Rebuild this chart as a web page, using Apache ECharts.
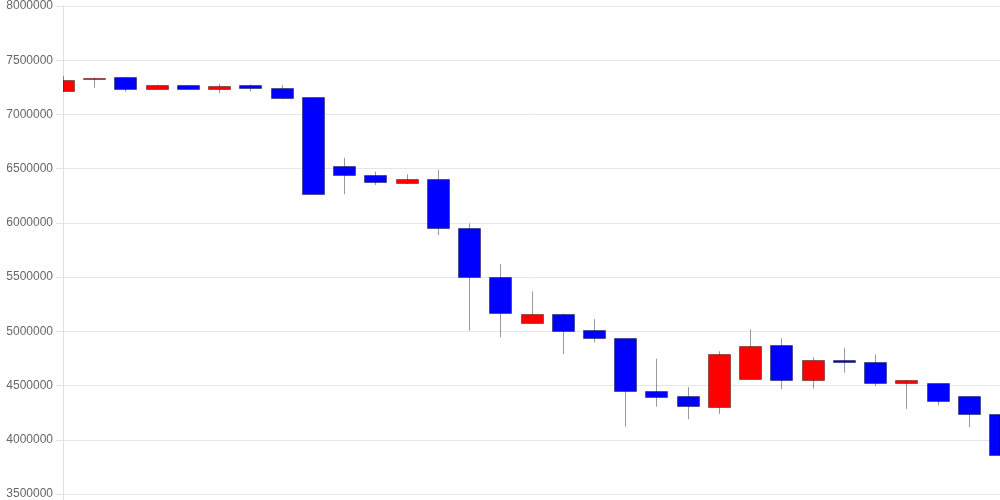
<!DOCTYPE html>
<html>
<head>
<meta charset="utf-8">
<script src="https://cdn.jsdelivr.net/npm/echarts@6/dist/echarts.min.js"></script>
<style>
html,body{margin:0;padding:0;background:#fff;}
#chart{width:1000px;height:500px;}
</style>
</head>
<body>
<div id="chart"></div>
<script>
var categories = ['1','2','3','4','5','6','7','8','9','10','11','12','13','14','15','16','17','18','19','20','21','22','23','24','25','26','27','28','29','30','31'];
var opens  = [7210000,7335000,7342000,7228000,7269000,7228000,7269000,7241000,7158000,6525000,6444000,6374000,6405000,5950000,5504000,5083000,5163000,5012000,4936000,4453000,4401000,4305000,4561000,4874000,4554000,4736000,4714000,4517000,4521000,4401000,4235000];
var closes = [7315000,7340000,7228000,7267000,7232000,7260000,7238000,7152000,6264000,6442000,6380000,6408000,5950000,5501000,5169000,5163000,5010000,4936000,4450000,4401000,4309000,4791000,4865000,4554000,4736000,4714000,4517000,4549000,4355000,4235000,3860000];
var lows   = [7210000,7247000,7210000,7228000,7232000,7195000,7210000,7140000,6264000,6264000,6349000,6359000,5888000,5006000,4945000,5074000,4791000,4899000,4121000,4305000,4189000,4238000,4561000,4466000,4471000,4619000,4493000,4284000,4318000,4115000,3807000];
var highs  = [7355000,7340000,7342000,7274000,7273000,7281000,7277000,7272000,7158000,6601000,6472000,6448000,6488000,5996000,5621000,5369000,5163000,5114000,4936000,4748000,4487000,4816000,5019000,4936000,4761000,4849000,4788000,4549000,4521000,4401000,4256000];
var yTicks = {min: 3500000, max: 8000000, interval: 500000};

var ohlc = categories.map(function(c, i){ return [i, opens[i], closes[i], lows[i], highs[i]]; });

var BODY_W = 22;
var EDGE = 'rgba(0,0,0,0.4)';

function renderCandle(params, api) {
  var idx = api.value(0);
  var o = api.value(1), c = api.value(2), l = api.value(3), h = api.value(4);
  var pO = api.coord([idx, o]);
  var pC = api.coord([idx, c]);
  var pL = api.coord([idx, l]);
  var pH = api.coord([idx, h]);
  var cs = params.coordSys;
  var area = {x: cs.x, y: cs.y, width: cs.width, height: cs.height};
  var cx = Math.round(pO[0]) + 0.5;
  var top = Math.min(pO[1], pC[1]);
  var bot = Math.max(pO[1], pC[1]);
  var up = c > o;
  var children = [];
  if (cx >= cs.x && cx <= cs.x + cs.width) {
    children.push({
      type: 'line',
      shape: {x1: cx, y1: pH[1], x2: cx, y2: pL[1]},
      style: {stroke: EDGE, lineWidth: 1}
    });
  }
  var rect = echarts.graphic.clipRectByRect(
    {x: Math.round(pO[0] - BODY_W / 2) + 0.5, y: Math.round(top) + 0.5, width: BODY_W, height: Math.max(1, Math.round(bot - top))},
    area
  );
  if (rect) {
    children.push({
      type: 'rect',
      shape: rect,
      style: {fill: up ? '#ff0000' : '#0000ff', stroke: EDGE, lineWidth: 1}
    });
  }
  return {type: 'group', children: children};
}

var chart = echarts.init(document.getElementById('chart'), null, {renderer:'canvas'});
chart.setOption({
  animation: false,
  grid: {left: 63, right: 0, top: 6, bottom: 6, containLabel: false},
  xAxis: {
    type: 'category',
    data: categories,
    boundaryGap: false,
    axisLine: {show: false},
    axisLabel: {show: false},
    axisTick: {show: true, length: 6, interval: function(i){ return i === 0; }, lineStyle: {color: '#e0e0e0'}},
    splitLine: {show: false}
  },
  yAxis: {
    type: 'value',
    min: yTicks.min,
    max: yTicks.max,
    interval: yTicks.interval,
    axisLine: {show: true, lineStyle: {color: '#e0e0e0'}},
    axisTick: {show: true, length: 7, lineStyle: {color: '#e0e0e0'}},
    axisLabel: {color: '#666', fontSize: 12, fontFamily: 'Liberation Sans, Arial, sans-serif', margin: 10,
      formatter: function(v){ return String(v); }},
    splitLine: {show: true, lineStyle: {color: '#e6e6e6'}}
  },
  series: [{
    type: 'custom',
    renderItem: renderCandle,
    data: ohlc,
    encode: {x: 0, y: [1, 2, 3, 4]},
    clip: true
  }]
});
</script>
</body>
</html>
